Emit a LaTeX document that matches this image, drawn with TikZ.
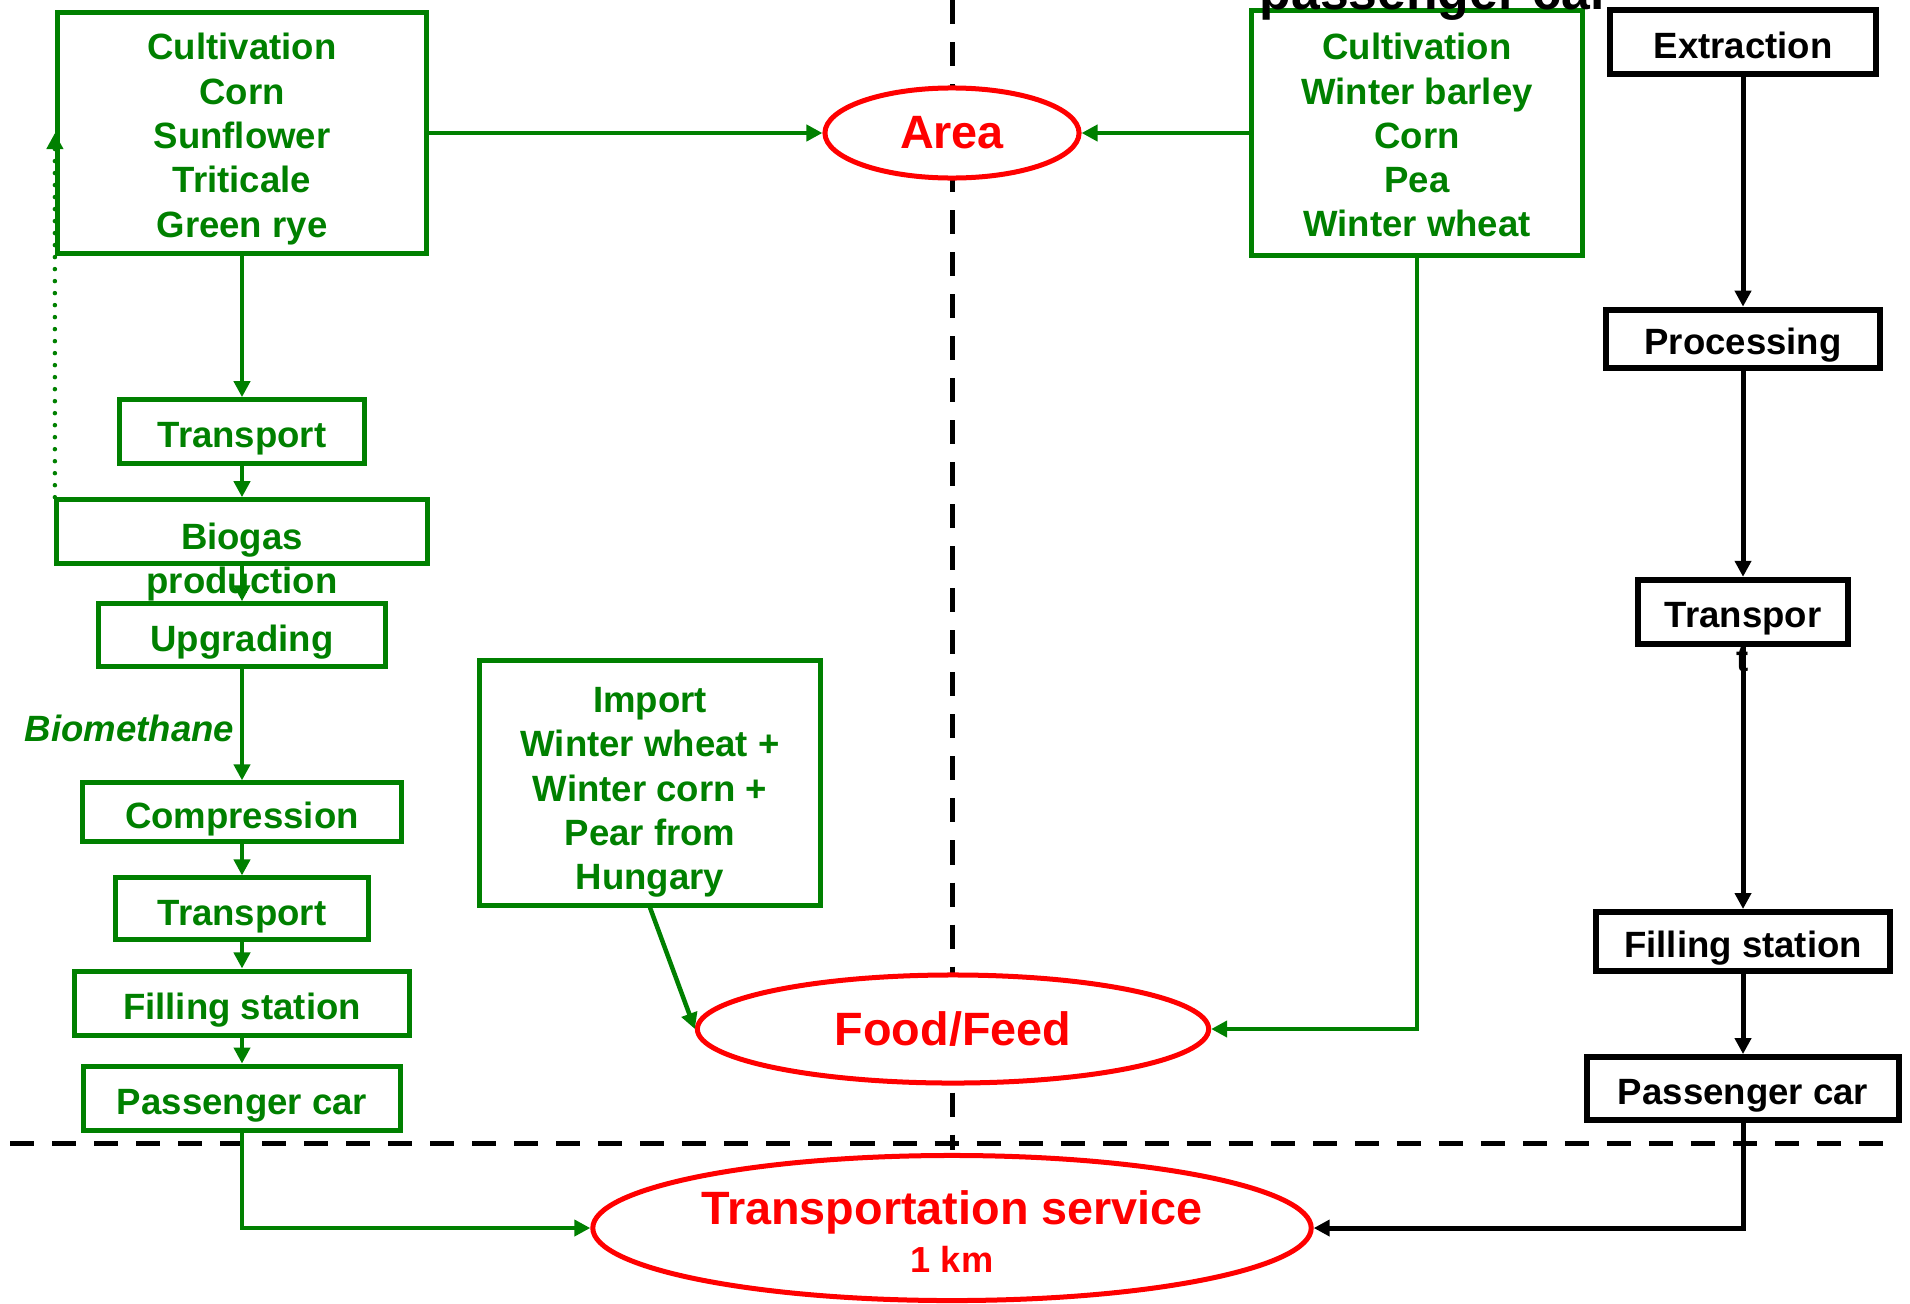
\documentclass[tikz,border=0pt]{standalone}
\usepackage{fontspec}
\setmainfont{Liberation Sans}
\usetikzlibrary{
  shapes.geometric,
  positioning,
  calc,
  arrows.meta}
\definecolor{cropcolor}{RGB}{0,128,0}
\definecolor{servicecolor}{RGB}{255,0,0}
\newcommand{\boxfont}{\fontsize{10.4pt}{12.6pt}\selectfont\bfseries}
\newcommand{\ovalfont}{\fontsize{13.3pt}{16pt}\selectfont\bfseries}
\newcommand{\kmfont}{\fontsize{10.3pt}{12pt}\selectfont\bfseries}
\newcommand{\carfont}{\fontsize{14.7pt}{17pt}\selectfont\bfseries}
\newcommand{\topstrut}{\rule{0pt}{1.05em}}
\newcommand{\bottomstrut}{\rule[-0.21em]{0pt}{0pt}}
\tikzset{
  green_arrow/.style={-{Triangle[length=0.16cm, width=0.16cm]}, draw=cropcolor, line width=0.045cm},
  black_arrow/.style={-{Triangle[length=0.16cm, width=0.16cm]}, draw=black, line width=0.05cm},
  feedback_arrow/.style={green_arrow, line cap=round, dash pattern=on 0pt off 0.12cm}
}
\tikzset{
  %% crop_box : a step of the biogas chain
  crop_box/.style={
    rectangle,
    draw=cropcolor,
    line width=0.05cm,
    text=cropcolor,
    font=\boxfont,
    inner sep=0pt,
    align=center
  },
  %% crop_text : text that runs out of its box
  crop_text/.style={
    text=cropcolor,
    font=\boxfont,
    inner sep=0pt,
    align=center
  },
  %% fossil_box : a step of the fossil chain
  fossil_box/.style={
    rectangle,
    draw=black,
    line width=0.06cm,
    font=\boxfont,
    inner sep=0pt,
    align=center
  },
  %% one_line : single line boxes, text sits a bit low
  one_line/.style={text height=0.97em, text depth=0.05em},
  %% service_oval : area, food/feed and service
  service_oval/.style={
    ellipse,
    draw=servicecolor,
    fill=white,
    line width=0.05cm,
    text=servicecolor,
    font=\ovalfont,
    inner sep=0pt,
    align=center
  },
  %% divider : dashed border lines
  divider/.style={black, line width=0.05cm, dash pattern=on 0.24cm off 0.18cm}
}

\begin{document}
\begin{tikzpicture}
  [x=0.01cm,
  y=-0.01cm]
  \useasboundingbox (0,0) rectangle (1910,1303);
  \clip (0,0) rectangle (1910,1303);

  %% Borders
  \draw [divider] (952,0) -- (952,1150);
  \draw [divider] (10,1143) -- (1890,1143);

  %% Biogas chain
  \node (cultL) [crop_box, minimum width=3.69cm, minimum height=2.41cm] at (242,133) {%
    \topstrut Cultivation\\Corn\\Sunflower\\Triticale\\Green rye};

  \node (transport1) [below=1.41cm of cultL, crop_box, one_line, minimum width=2.45cm, minimum height=0.64cm] {Transport};

  \node (biogas) [below=0.31cm of transport1, crop_box, minimum width=3.71cm, minimum height=0.64cm] {};
  \node (biogastext) [crop_text] at ($(biogas.center)+(0,30)$) {Biogas\\production};

  \node (upgrading) [below=0.35cm of biogas, crop_box, one_line, minimum width=2.87cm, minimum height=0.63cm] {Upgrading};

  \node (compression) [below=1.11cm of upgrading, crop_box, one_line, minimum width=3.18cm, minimum height=0.59cm] {Compression};

  \node (transport2) [below=0.31cm of compression, crop_box, one_line, minimum width=2.53cm, minimum height=0.62cm] {Transport};

  \node (fillingL) [below=0.26cm of transport2, crop_box, one_line, minimum width=3.35cm, minimum height=0.64cm] {Filling station};

  \node (passengerL) [below=0.26cm of fillingL, crop_box, one_line, minimum width=3.17cm, minimum height=0.64cm] {Passenger car};

  \node (biomethane) [crop_text, font=\boxfont\itshape, anchor=east, xshift=-0.07cm, yshift=-0.04cm] at
  ($(upgrading.south)!0.5!(compression.north)$) {Biomethane};

  %% Food/feed chain
  \node (cultR) [crop_box, minimum width=3.31cm, minimum height=2.44cm] at (1417,133) {%
    \topstrut Cultivation\\Winter barley\\Corn\\Pea\\Winter wheat\bottomstrut};

  \node (import) [crop_box, minimum width=3.40cm, minimum height=2.44cm] at (650,783) {%
    \rule{0pt}{1.2em}Import\\Winter wheat +\\Winter corn +\\Pear from\\Hungary};

  %% Fossil chain
  \node (fossiltitle) [font=\carfont, anchor=base] at (1435,9) {passenger car};

  \node (extraction) [fossil_box, one_line, minimum width=2.65cm, minimum height=0.63cm] at (1743,42) {Extraction};

  \node (processing) [below=2.30cm of extraction, fossil_box, one_line, minimum width=2.73cm, minimum height=0.58cm] {Processing};

  \node (transportR) [below=2.06cm of processing, fossil_box, minimum width=2.10cm, minimum height=0.64cm] {};
  \node (transportRtext) [font=\boxfont, inner sep=0pt, align=center] at ($(transportR.center)+(0,25)$) {Transpor\\t};

  \node (fillingR) [below=2.62cm of transportR, fossil_box, one_line, minimum width=2.93cm, minimum height=0.59cm] {Filling station};

  \node (passengerR) [below=0.80cm of fillingR, fossil_box, one_line, minimum width=3.12cm, minimum height=0.63cm] {Passenger car};

  %% Results
  \node (area) [service_oval, minimum width=2.54cm, minimum height=0.90cm] at (952,133) {Area};

  \node (foodfeed) [service_oval, minimum width=5.11cm, minimum height=1.08cm] at (953,1029) {Food/Feed};

  \node (service) [service_oval, minimum width=7.18cm, minimum height=1.45cm] at (952,1228) {%
    \rule{0pt}{0.87em}Transportation service\\[-2.15pt]{\kmfont 1 km}};

  %% Connections
  \draw [green_arrow] (cultL) -- (transport1);
  \draw [green_arrow] (transport1) -- (biogas);
  \draw [green_arrow] (biogas) -- (upgrading);
  \draw [green_arrow] (upgrading) -- (compression);
  \draw [green_arrow] (compression) -- (transport2);
  \draw [green_arrow] (transport2) -- (fillingL);
  \draw [green_arrow] (fillingL) -- (passengerL);
  \draw [green_arrow] (passengerL.south) |- (service.west);
  \draw [feedback_arrow] (cultL.west |- biogas.north) -- (cultL.west);

  \draw [green_arrow] (cultL.east) -- (area.west);
  \draw [green_arrow] (cultR.west) -- (area.east);
  \draw [green_arrow] (cultR.south) |- (foodfeed.east);
  \draw [green_arrow] (import.south) -- (foodfeed.west);

  \draw [black_arrow] (extraction) -- (processing);
  \draw [black_arrow] (processing) -- (transportR);
  \draw [black_arrow] (transportR) -- (fillingR);
  \draw [black_arrow] (fillingR) -- (passengerR);
  \draw [black_arrow] (passengerR.south) |- (service.east);

\end{tikzpicture}
\end{document}
